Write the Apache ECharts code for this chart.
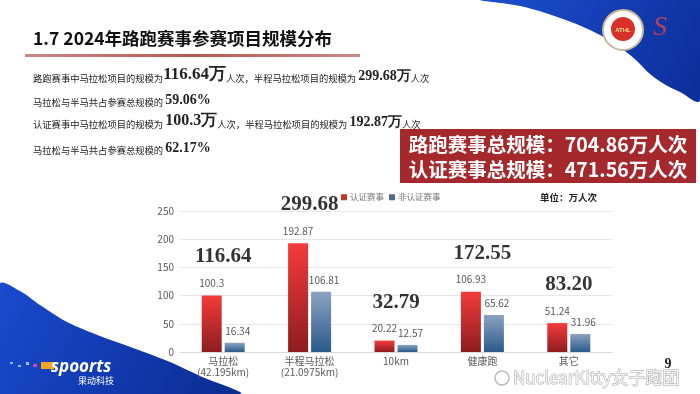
<!DOCTYPE html>
<html>
<head>
<meta charset="utf-8">
<script src="https://cdn.jsdelivr.net/npm/echarts@6/dist/echarts.min.js"></script>
<style>
html,body{margin:0;padding:0;background:#fff;}
#c{width:700px;height:394px;}
</style>
</head>
<body>
<div id="c"></div>
<script>
// ---- data ----
const categories = ['马拉松\n(42.195km)', '半程马拉松\n(21.0975km)', '10km', '健康跑', '其它'];
const certified = [100.3, 192.87, 20.22, 106.93, 51.24];
const uncertified = [16.34, 106.81, 12.57, 65.62, 31.96];
const totals = ['116.64', '299.68', '32.79', '172.55', '83.20'];
const yTicks = { min: 0, max: 250, interval: 50 };
const seriesNames = ['认证赛事', '非认证赛事'];

const CJK = '"Noto Sans CJK SC", "Noto Sans", sans-serif';
const SERIF = '"Liberation Serif", "DejaVu Serif", serif';
const labelAnchor = certified.map((v, i) => Math.max(v, uncertified[i]));

const chart = echarts.init(document.getElementById('c'), null, { renderer: 'canvas' });

function grad(top, bottom) {
  return new echarts.graphic.LinearGradient(0, 0, 0, 1, [
    { offset: 0, color: top }, { offset: 1, color: bottom }
  ]);
}

const richSmall = { fontSize: 9.3, fontFamily: CJK, fill: '#222', verticalAlign: 'bottom', lineHeight: 16 };
function big(sz) { return { fontSize: sz, fontFamily: SERIF, fontWeight: 'bold', fill: '#222', verticalAlign: 'bottom', lineHeight: 16 }; }

const option = {
  backgroundColor: '#ffffff',
  animation: false,
  grid: { left: 180, right: 88, top: 211, bottom: 42 },
  legend: {
    data: [
      { name: seriesNames[0], itemStyle: { color: '#c0392b' } },
      { name: seriesNames[1], itemStyle: { color: '#4f6a8a' } }
    ],
    left: 336, top: 188, itemWidth: 6, itemHeight: 6, itemGap: 5,
    icon: 'rect',
    textStyle: { fontSize: 8.5, color: '#777', fontFamily: CJK, padding: [0, 0, 0, -2] }
  },
  xAxis: {
    type: 'category',
    data: categories,
    axisTick: { show: false },
    axisLine: { lineStyle: { color: '#d9d9d9' } },
    axisLabel: { color: '#595959', fontSize: 10, fontFamily: CJK, lineHeight: 11, margin: 4, interval: 0 }
  },
  yAxis: {
    type: 'value',
    min: yTicks.min, max: yTicks.max, interval: yTicks.interval,
    axisLine: { show: false },
    axisTick: { show: false },
    axisLabel: { color: '#595959', fontSize: 10, fontFamily: CJK, margin: 6 },
    splitLine: { lineStyle: { color: '#e6e6e6' } }
  },
  series: [
    {
      name: seriesNames[0], type: 'bar', data: certified,
      barWidth: 20, barGap: '15%',
      itemStyle: { color: grad('#f53b3b', '#8e1c20') },
      label: { show: true, position: 'top', distance: 7, color: '#595959', fontSize: 10, fontFamily: CJK }
    },
    {
      name: seriesNames[1], type: 'bar', data: uncertified,
      barWidth: 20,
      itemStyle: { color: grad('#8aa3c0', '#2b5a8a') },
      label: { show: true, position: 'top', distance: 7, offset: [3, 0], color: '#595959', fontSize: 10, fontFamily: CJK }
    },
    {
      name: 'totals', type: 'scatter', data: labelAnchor, symbolSize: 0, silent: true, z: 10,
      label: {
        show: true, position: 'top', distance: 28,
        formatter: p => totals[p.dataIndex],
        fontFamily: SERIF, fontWeight: 'bold', fontSize: 21, color: '#000', textBorderWidth: 0
      }
    }
  ],
  graphic: [
    // top-right blue swoosh
    { type: 'polygon', z: -10, silent: true,
      shape: { points: [[482,0],[520,6],[560,18],[600,35],[630,55],[655,78],[680,92],[700,100],[700,0]], smooth: 0.4 },
      style: { fill: new echarts.graphic.LinearGradient(0, 0, 1, 1, [{offset:0,color:'#1d4fd0'},{offset:1,color:'#0b2c96'}]) } },
    // bottom-left blue swoosh
    { type: 'polygon', z: -10, silent: true,
      shape: { points: [[0,284],[20,291],[40,305],[67,322],[100,336],[133,348],[170,362],[200,376],[240,394],[0,394]], smooth: 0.3 },
      style: { fill: new echarts.graphic.LinearGradient(0, 0, 1, 1, [{offset:0,color:'#1a4bd0'},{offset:1,color:'#0a2b90'}]) } },
    // emblem
    { type: 'circle', shape: { cx: 623, cy: 30, r: 20 }, style: { fill: '#ffffff', stroke: '#c9b89a', lineWidth: 2 } },
    { type: 'circle', shape: { cx: 623, cy: 29, r: 12 }, style: { fill: '#d8302a' } },
    { type: 'text', x: 623, y: 30, style: { text: 'ATHL', fill: '#ffe08a', fontSize: 6, fontWeight: 'bold', align: 'center', verticalAlign: 'middle' } },
    { type: 'text', x: 660, y: 28, style: { text: 'S', fill: '#e0404a', fontSize: 28, fontStyle: 'italic', fontFamily: SERIF, align: 'center', verticalAlign: 'middle', opacity: 0.8 } },
    // title
    { type: 'text', x: 33, y: 38, style: { text: '1.7 2024年路跑赛事参赛项目规模分布', fontSize: 17.5, fontWeight: 'bold', fontFamily: CJK, fill: '#111', align: 'left', verticalAlign: 'middle' } },
    { type: 'rect', shape: { x: 25, y: 54, width: 335, height: 3 }, style: { fill: new echarts.graphic.LinearGradient(0,0,1,0,[{offset:0,color:'#c98a84'},{offset:0.5,color:'#b35a52'},{offset:1,color:'#c98a84'}]) } },
    // red box
    { type: 'rect', shape: { x: 400, y: 129, width: 296, height: 54 }, style: { fill: '#a5282c' } },
    { type: 'text', x: 548, y: 145, style: { text: '路跑赛事总规模：704.86万人次', fontSize: 19.5, fontWeight: 'bold', fontFamily: CJK, fill: '#ffffff', align: 'center', verticalAlign: 'middle' } },
    { type: 'text', x: 548, y: 170, style: { text: '认证赛事总规模：471.56万人次', fontSize: 19.5, fontWeight: 'bold', fontFamily: CJK, fill: '#ffffff', align: 'center', verticalAlign: 'middle' } },
    // text lines
    { type: 'text', x: 33, y: 75, style: { text: '{s|路跑赛事中马拉松项目的规模为}{b|116.64万}{s|人次，半程马拉松项目的规模为 }{c|299.68万}{s|人次}', rich: { s: richSmall, b: big(17), c: big(14) }, align: 'left', verticalAlign: 'middle' } },
    { type: 'text', x: 33, y: 99, style: { text: '{s|马拉松与半马共占参赛总规模的 }{c|59.06%}', rich: { s: richSmall, c: big(14) }, align: 'left', verticalAlign: 'middle' } },
    { type: 'text', x: 33, y: 121, style: { text: '{s|认证赛事中马拉松项目的规模为 }{b|100.3万}{s|人次，半程马拉松项目的规模为 }{c|192.87万}{s|人次}', rich: { s: richSmall, b: big(16), c: big(14) }, align: 'left', verticalAlign: 'middle' } },
    { type: 'text', x: 33, y: 147, style: { text: '{s|马拉松与半马共占参赛总规模的 }{c|62.17%}', rich: { s: richSmall, c: big(14) }, align: 'left', verticalAlign: 'middle' } },
    // unit
    { type: 'text', x: 540, y: 197, style: { text: '单位：万人次', fontSize: 9.5, fontWeight: 'bold', fontFamily: CJK, fill: '#222', align: 'left', verticalAlign: 'middle' } },
    // sports logo
    { type: 'rect', shape: { x: 10, y: 362, width: 3, height: 2 }, style: { fill: '#8fb0ff' } },
    { type: 'rect', shape: { x: 18, y: 365, width: 3, height: 2 }, style: { fill: '#8fb0ff' } },
    { type: 'rect', shape: { x: 26, y: 362, width: 3, height: 3 }, style: { fill: '#a0c0ff' } },
    { type: 'rect', shape: { x: 33, y: 364, width: 4, height: 3 }, style: { fill: '#c050c0' } },
    { type: 'rect', shape: { x: 41, y: 362, width: 13, height: 7 }, style: { fill: '#f5a623' } },
    { type: 'text', x: 51, y: 367, style: { text: 'spoorts', fontSize: 17, fontWeight: 'bold', fontStyle: 'italic', fontFamily: '"Open Sans", sans-serif', fill: '#ffffff', align: 'left', verticalAlign: 'middle' } },
    { type: 'text', x: 78, y: 381, style: { text: '果动科技', fontSize: 9, fontFamily: CJK, fill: '#ffffff', align: 'left', verticalAlign: 'middle' } },
    // page number
    { type: 'text', x: 668, y: 364, style: { text: '9', fontSize: 14, fontWeight: 'bold', fontFamily: SERIF, fill: '#222', align: 'center', verticalAlign: 'middle' } },
    // watermark
    { type: 'circle', shape: { cx: 502, cy: 378, r: 7 }, style: { fill: 'none', stroke: '#bbbbbb', lineWidth: 1.5 } },
    { type: 'text', x: 513, y: 378, style: { text: 'NuclearKitty女子跑团', fontSize: 17, fontFamily: CJK, fill: '#f4f4f4', stroke: '#aaaaaa', lineWidth: 1, align: 'left', verticalAlign: 'middle' } }
  ]
};
chart.setOption(option);
</script>
</body>
</html>
